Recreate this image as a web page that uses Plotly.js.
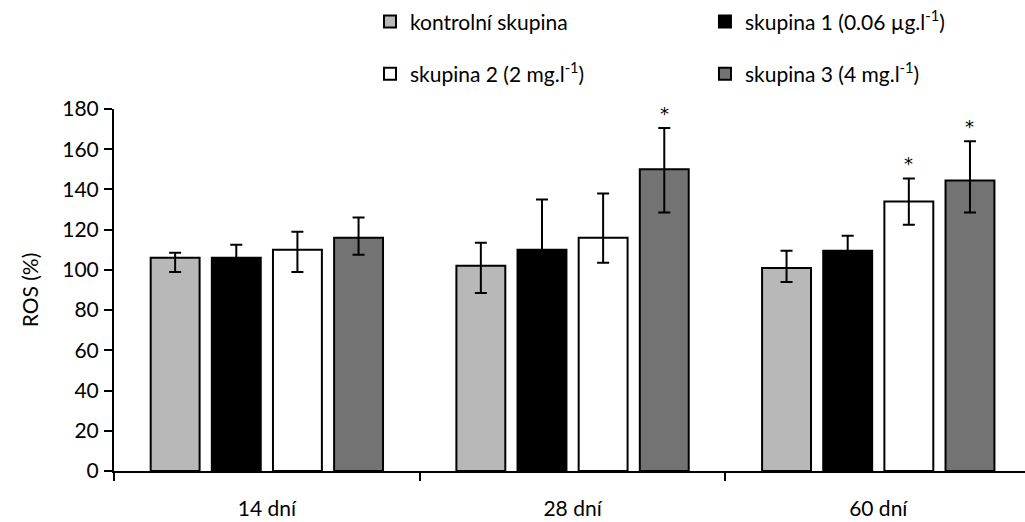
<!DOCTYPE html>
<html>
<head>
<meta charset="utf-8">
<script src="https://cdn.plot.ly/plotly-3.0.1.min.js"></script>
<style>html,body{margin:0;padding:0;background:#fff;}#chart{width:1025px;height:522px;}</style>
</head>
<body>
<div id="chart"></div>
<script>
// ---- data ----
const groups = ['14 dní', '28 dní', '60 dní'];
const seriesNames = ['kontrolní skupina', 'skupina 1 (0.06 µg.l<sup>-1</sup>)', 'skupina 2 (2 mg.l<sup>-1</sup>)', 'skupina 3 (4 mg.l<sup>-1</sup>)'];

const kontrolValues = [106, 102, 101];
const kontrolErrPlus = [2.5, 11.5, 8.5];
const kontrolErrMinus = [7, 13.5, 7];
const kontrolSig = ['', '', ''];

const s1Values = [106, 110, 109.5];
const s1ErrPlus = [6.5, 25, 7.5];
const s1ErrMinus = [6.5, 25, 7.5];
const s1Sig = ['', '', ''];

const s2Values = [110, 116, 134];
const s2ErrPlus = [9, 22, 11.5];
const s2ErrMinus = [11, 12.5, 11.5];
const s2Sig = ['', '', '*'];

const s3Values = [116, 150, 144.5];
const s3ErrPlus = [10, 20.5, 19.5];
const s3ErrMinus = [8.5, 21.5, 16];
const s3Sig = ['', '*', '*'];

const yTicks = [0, 20, 40, 60, 80, 100, 120, 140, 160, 180];

// ---- styles ----
const colors = ['#b8b8b8', '#000000', '#ffffff', '#737373'];
const FONT = 'Lato, "Open Sans", sans-serif';
const FS = 21;
const bargap = 0.2;

const xPos = groups.map((g, i) => i);
const seriesData = [
  {v: kontrolValues, p: kontrolErrPlus, m: kontrolErrMinus, s: kontrolSig},
  {v: s1Values, p: s1ErrPlus, m: s1ErrMinus, s: s1Sig},
  {v: s2Values, p: s2ErrPlus, m: s2ErrMinus, s: s2Sig},
  {v: s3Values, p: s3ErrPlus, m: s3ErrMinus, s: s3Sig}
];
const legendIds = ['legend', 'legend2', 'legend3', 'legend4'];

const traces = seriesData.map((d, k) => ({
  type: 'bar',
  name: seriesNames[k],
  x: xPos,
  y: d.v,
  legend: legendIds[k],
  marker: {color: colors[k], line: {color: '#000', width: 2}},
  error_y: {type: 'data', symmetric: false, array: d.p, arrayminus: d.m,
            color: '#000', thickness: 2, width: 6},
  hoverinfo: 'skip'
}));

const nSeries = seriesData.length;
const slot = (1 - bargap) / nSeries;
const annotations = [];
seriesData.forEach((d, k) => {
  d.s.forEach((mark, i) => {
    if (!mark) return;
    annotations.push({
      x: xPos[i] + (k - (nSeries - 1) / 2) * slot,
      y: d.v[i] + d.p[i],
      xref: 'x', yref: 'y',
      text: mark, showarrow: false,
      yanchor: 'bottom', yshift: 2,
      font: {family: '"DejaVu Sans", sans-serif', size: 18, color: '#000'}
    });
  });
});

function legendAt(x, y) {
  return {
    orientation: 'h', x: x, xanchor: 'left', xref: 'paper',
    y: y, yanchor: 'middle', yref: 'container',
    font: {family: FONT, size: FS, color: '#000'},
    bgcolor: 'rgba(0,0,0,0)'
  };
}

const layout = {
  width: 1025, height: 522,
  margin: {l: 114, r: 0, t: 109, b: 51},
  paper_bgcolor: '#fff', plot_bgcolor: '#fff',
  font: {family: FONT, size: FS, color: '#000'},
  barmode: 'group', bargap: bargap, bargroupgap: 0.2,
  showlegend: true,
  legend: legendAt(0.281, 0.958),
  legend2: legendAt(0.6487, 0.958),
  legend3: legendAt(0.281, 0.858),
  legend4: legendAt(0.6487, 0.858),
  xaxis: {
    range: [-0.5, 2.48], tickvals: xPos, ticktext: groups,
    ticks: '', showgrid: false, zeroline: false,
    showline: true, linecolor: '#000', linewidth: 2,
    ticklabelstandoff: 18, tickfont: {family: FONT, size: FS, color: '#000'},
    fixedrange: true
  },
  xaxis2: {
    overlaying: 'x', side: 'bottom', anchor: 'y',
    range: [-0.5, 2.48], tickvals: xPos.map(i => i - 0.5),
    ticks: 'outside', ticklen: 9, tickwidth: 2, tickcolor: '#000',
    showticklabels: false, showgrid: false, zeroline: false, showline: false
  },
  yaxis: {
    range: [0, 180], tickvals: yTicks,
    ticks: 'outside', ticklen: 8, tickwidth: 2, tickcolor: '#000',
    showline: true, linecolor: '#000', linewidth: 2,
    showgrid: false, zeroline: false,
    tickfont: {family: FONT, size: FS, color: '#000'},
    ticklabelstandoff: 1,
    title: {text: 'ROS (%)', font: {family: FONT, size: FS, color: '#000'}, standoff: 18},
    fixedrange: true
  },
  annotations: annotations
};

// empty trace so the boundary-tick axis is drawn
traces.push({type: 'scatter', x: [], y: [], xaxis: 'x2', yaxis: 'y', showlegend: false, hoverinfo: 'skip'});

Plotly.newPlot('chart', traces, layout, {staticPlot: true, displayModeBar: false});
</script>
</body>
</html>
